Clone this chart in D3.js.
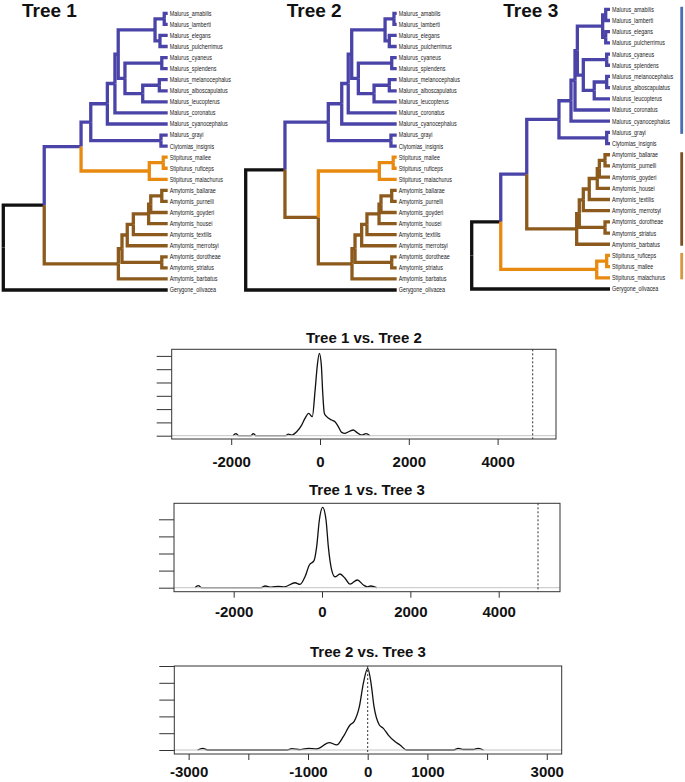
<!DOCTYPE html>
<html><head><meta charset="utf-8">
<script src="https://cdn.jsdelivr.net/npm/d3@7"></script>
<style>body{margin:0;background:#fff}svg{display:block}</style>
</head><body>
<svg id="c" width="685" height="782"></svg>
<script>
// ---------- DATA ----------
// Trees: Newick topology; number after ':' on an internal node = node depth (root 0, tips 100)
const tree1Newick = "(((((((((Malurus_amabilis,Malurus_lamberti):97.9,(Malurus_elegans,Malurus_pulcherrimus):95.3):92.3,((Malurus_cyaneus,Malurus_splendens):96.4,((Malurus_melanocephalus,Malurus_alboscapulatus):94.9,Malurus_leucopterus):84.8):74.0):69.9,Malurus_coronatus):67.9,Malurus_cyanocephalus):63.3,(Malurus_grayi,Clytomias_insignis):95.9):53.2,((Stipiturus_mallee,Stipiturus_ruficeps):97.3,Stipiturus_malachurus):88.8):47.3,(((((((Amytornis_ballarae,Amytornis_purnelli):96.4,Amytornis_goyderi):89.7,Amytornis_housei):88.4,Amytornis_textilis):79.1,Amytornis_merrotsyi):75.4,(Amytornis_dorotheae,Amytornis_striatus):96.4):72.2,Amytornis_barbatus):70.0):24.9,Gerygone_olivacea):0";
const tree2Newick = "((((((((Malurus_amabilis,Malurus_lamberti):98.2,(Malurus_elegans,Malurus_pulcherrimus):95.1):92.3,((Malurus_cyaneus,Malurus_splendens):96.7,((Malurus_melanocephalus,Malurus_alboscapulatus):95.1,Malurus_leucopterus):85.0):74.6):70.2,Malurus_coronatus):67.9,Malurus_cyanocephalus):63.6,(Malurus_grayi,Clytomias_insignis):96.2):54.7,(((Stipiturus_mallee,Stipiturus_ruficeps):97.7,Stipiturus_malachurus):88.5,(((((((Amytornis_ballarae,Amytornis_purnelli):96.7,Amytornis_goyderi):89.6,Amytornis_housei):88.3,Amytornis_textilis):80.3,Amytornis_merrotsyi):76.8,(Amytornis_dorotheae,Amytornis_striatus):96.7):72.4,Amytornis_barbatus):70.4):48.1):26.0,Gerygone_olivacea):0";
const tree3Newick = "(((((((((Malurus_amabilis,Malurus_lamberti):96.9,(Malurus_elegans,Malurus_pulcherrimus):96.9):94.7,((Malurus_cyaneus,Malurus_splendens):97.6,((Malurus_melanocephalus,Malurus_alboscapulatus):97.6,Malurus_leucopterus):88.6):80.7):76.4,Malurus_coronatus):74.7,Malurus_cyanocephalus):71.8,(Malurus_grayi,Clytomias_insignis):97.6):63.1,(((((((Amytornis_ballarae,Amytornis_purnelli):96.4,Amytornis_goyderi):92.3,Amytornis_housei):90.8,Amytornis_textilis):85.0,Amytornis_merrotsyi):80.7,(Amytornis_dorotheae,Amytornis_striatus):96.4):77.8,Amytornis_barbatus):75.9):39.8,((Stipiturus_ruficeps,Stipiturus_mallee):97.6,Stipiturus_malachurus):90.4):21.0,Gerygone_olivacea):0";
const treeTitles = ["Tree 1", "Tree 2", "Tree 3"];
const genera = ["Malurus", "Clytomias", "Stipiturus", "Amytornis", "Gerygone"];
const generaColors = ["#4b44a8", "#4b44a8", "#e88a10", "#8c5a1c", "#111111"];
const barGroups = ["Malurus", "Amytornis", "Stipiturus"];
const barColors = ["#4a6cb4", "#7b5123", "#d8963e"];

// Density curves of pairwise differences
const plotTitles = ["Tree 1 vs. Tree 2", "Tree 1 vs. Tree 3", "Tree 2 vs. Tree 3"];
const d12x = [-1960,-1892,-1830,-1560,-1502,-1440,-780,-713,-640,-525,-413,-338,-255,-173,-113,-60,-15,30,60,98,150,263,338,413,488,563,676,750,826,938,1036,1126];
const d12y = [0,0.15,0,0,0.15,0,0,0.12,0.05,0.3,0.8,1.3,1.68,1.43,3.31,5.31,6.19,5.31,3.31,1.68,1.43,1.18,1.05,0.68,0.25,0.18,0.35,0.43,0.25,0.05,0.15,0];
const d13x = [-2880,-2800,-2720,-1380,-1290,-1150,-989,-850,-611,-498,-385,-287,-181,-121,-60,15,91,143,219,294,408,521,634,800,936,1030,1102,1238];
const d13y = [0,0.12,0,0,0.1,0.03,0.08,0.05,0.29,0.19,0.64,1.33,1.58,2.4,3.96,4.7,3.96,2.4,1.03,0.64,0.8,0.55,0.21,0.45,0.16,0.05,0.1,0];
const d23x = [-2850,-2764,-2680,-1350,-1273,-1130,-995,-854,-643,-519,-409,-296,-229,-140,-73,0,55,106,195,262,345,457,541,653,1440,1518,1600,1680,1770,1853,1940];
const d23y = [0,0.1,0,0,0.08,0.02,0.1,0.06,0.44,0.3,0.79,1.49,1.69,2.58,3.97,4.86,4.0,2.58,1.49,1.29,0.89,0.5,0.3,0,0,0.1,0.03,0.03,0.03,0.1,0];
const observed = [4790, 4890, 0];
const yTicks1 = [0,1,2,3,4,5,6];
const yTicks2 = [0,1,2,3,4];
const yTicks3 = [0,1,2,3,4,5];
const xTicks12 = [-2000,0,2000,4000];
const xTicks3 = [-3000,-2000,-1000,0,1000,2000,3000];
const xLabels3 = ["-3000","","-1000","0","1000","","3000"];

// ---------- DRAWING ----------
const svg = d3.select("#c");
const colorOf = name => generaColors[genera.indexOf(name.split("_")[0])];

function parseNewick(s) {
  let i = 0;
  function readNum() {
    if (s[i] === ":") { i++; let n = ""; while (i < s.length && /[0-9.\-]/.test(s[i])) n += s[i++]; return +n; }
    return 0;
  }
  function node() {
    if (s[i] === "(") {
      i++;
      const children = [node()];
      while (s[i] === ",") { i++; children.push(node()); }
      i++;
      return { children, depth: readNum() };
    }
    let name = "";
    while (i < s.length && !",():".includes(s[i])) name += s[i++];
    return { name, depth: 100 };
  }
  return node();
}

function drawTree(newick, cfg, title) {
  const root = d3.hierarchy(parseNewick(newick), d => d.children);
  const leaves = root.leaves();
  const x = d3.scaleLinear().domain([0, 100]).range([cfg.rootX, cfg.tipX]);
  const y = d3.scaleLinear().domain([0, leaves.length - 1]).range([cfg.y0, cfg.y1]);
  leaves.forEach((l, i) => l.yy = y(i));
  root.eachAfter(n => {
    if (n.children) n.yy = (n.children[0].yy + n.children[n.children.length - 1].yy) / 2;
  });
  root.eachAfter(n => {
    if (!n.children) { n.col = colorOf(n.data.name); return; }
    const cols = new Set(n.leaves().map(l => colorOf(l.data.name)));
    if (cols.size === 1) n.col = [...cols][0];
    else {
      const big = n.children.reduce((a, b) => (b.leaves().length > a.leaves().length ? b : a));
      n.col = big.col;
    }
  });
  root.col = "#111111";
  root.children.forEach(c => c.col = "#111111");

  const g = svg.append("g");
  root.descendants().filter(n => n.parent).forEach(n => {
    g.append("path")
      .attr("d", `M${x(n.parent.data.depth)},${n.parent.yy}V${n.yy}H${x(n.data.depth)}`)
      .attr("fill", "none").attr("stroke", n.col).attr("stroke-width", 3.3)
      .attr("stroke-linejoin", "miter").attr("stroke-linecap", "butt");
  });
  leaves.forEach(l => {
    g.append("text")
      .attr("transform", `translate(${cfg.tipX + 2},${l.yy}) scale(0.77,1)`)
      .attr("dy", "0.35em")
      .attr("font-family", "Liberation Sans, Arial, Helvetica, sans-serif")
      .attr("font-size", 7).attr("fill", "#222")
      .text(l.data.name);
  });
  svg.append("text").attr("x", cfg.titleX).attr("y", 17)
    .attr("font-family", "Liberation Sans, Arial, Helvetica, sans-serif")
    .attr("font-weight", "bold").attr("font-size", 19).attr("fill", "#111")
    .text(title);
  return { leaves, y };
}

drawTree(tree1Newick, { rootX: 3.3, tipX: 167.7, y0: 13.3, y1: 290, titleX: 22 }, treeTitles[0]);
drawTree(tree2Newick, { rootX: 245.7, tipX: 396.7, y0: 13.3, y1: 290, titleX: 286.7 }, treeTitles[1]);
const t3 = drawTree(tree3Newick, { rootX: 471.7, tipX: 610, y0: 9.3, y1: 289, titleX: 503.3 }, treeTitles[2]);

barGroups.forEach((gname, k) => {
  const ys = t3.leaves.filter(l => l.data.name.startsWith(gname)).map(l => l.yy);
  svg.append("rect").attr("x", 680.3).attr("width", 2.8)
    .attr("y", d3.min(ys) - 2.5).attr("height", d3.max(ys) - d3.min(ys) + 4)
    .attr("fill", barColors[k]);
});

function drawDensity(cfg) {
  const x = d3.scaleLinear().domain(cfg.xdom).range([cfg.left, cfg.right]);
  const y = d3.scaleLinear().domain(cfg.ydom).range([cfg.bottom, cfg.top]);
  const g = svg.append("g");
  const pts = cfg.xs.map((v, i) => [v, cfg.ys[i]]);
  g.append("path").datum(pts)
    .attr("d", d3.line().x(d => x(d[0])).y(d => y(d[1])).curve(d3.curveMonotoneX))
    .attr("fill", "none").attr("stroke", "#111").attr("stroke-width", 1.3);
  // zero line drawn over the curve (as plot.density does)
  g.append("line").attr("x1", cfg.left).attr("x2", cfg.right)
    .attr("y1", y(0)).attr("y2", y(0)).attr("stroke", "#c4c4c4").attr("stroke-width", 1);
  g.append("line").attr("x1", x(cfg.obs)).attr("x2", x(cfg.obs))
    .attr("y1", cfg.top).attr("y2", cfg.bottom)
    .attr("stroke", "#333").attr("stroke-width", 1).attr("stroke-dasharray", "2,2");
  g.append("rect").attr("x", cfg.left).attr("y", cfg.top)
    .attr("width", cfg.right - cfg.left).attr("height", cfg.bottom - cfg.top)
    .attr("fill", "none").attr("stroke", "#333").attr("stroke-width", 1);
  const ya = d3.axisLeft(y).tickValues(cfg.yticks).tickSize(15).tickFormat("");
  const yg = g.append("g").attr("transform", `translate(${cfg.left},0)`).call(ya);
  yg.select(".domain").remove();
  yg.selectAll("line").attr("stroke", "#333");
  const xa = d3.axisBottom(x).tickValues(cfg.xticks).tickSize(6)
    .tickFormat((d, i) => cfg.xlabels ? cfg.xlabels[i] : String(d));
  const xg = g.append("g").attr("transform", `translate(0,${cfg.bottom})`).call(xa);
  xg.select(".domain").remove();
  xg.selectAll("line").attr("stroke", "#333");
  xg.selectAll("text").attr("y", cfg.labelY - cfg.bottom).attr("dy", 0)
    .attr("font-family", "Liberation Sans, Arial, Helvetica, sans-serif")
    .attr("font-weight", "bold").attr("font-size", 15).attr("fill", "#111");
  g.append("text").attr("x", (cfg.left + cfg.right) / 2).attr("y", cfg.titleY)
    .attr("text-anchor", "middle")
    .attr("font-family", "Liberation Sans, Arial, Helvetica, sans-serif")
    .attr("font-weight", "bold").attr("font-size", 15).attr("fill", "#111")
    .text(cfg.title);
}

drawDensity({ title: plotTitles[0], xs: d12x, ys: d12y, obs: observed[0],
  left: 171.7, right: 556, top: 349.3, bottom: 439, xdom: [-3340, 5315], ydom: [-0.248, 6.496],
  yticks: yTicks1, xticks: xTicks12, labelY: 466.7, titleY: 343.3 });
drawDensity({ title: plotTitles[1], xs: d13x, ys: d13y, obs: observed[1],
  left: 174, right: 560, top: 503.3, bottom: 591.7, xdom: [-3351, 5388], ydom: [-0.234, 4.936],
  yticks: yTicks2, xticks: xTicks12, labelY: 616.7, titleY: 495 });
drawDensity({ title: plotTitles[2], xs: d23x, ys: d23y, obs: observed[2],
  left: 174.3, right: 561.7, top: 666, bottom: 754, xdom: [-3240, 3250], ydom: [-0.238, 5.0],
  yticks: yTicks3, xticks: xTicks3, xlabels: xLabels3, labelY: 776.7, titleY: 656.7 });
</script>
</body></html>
